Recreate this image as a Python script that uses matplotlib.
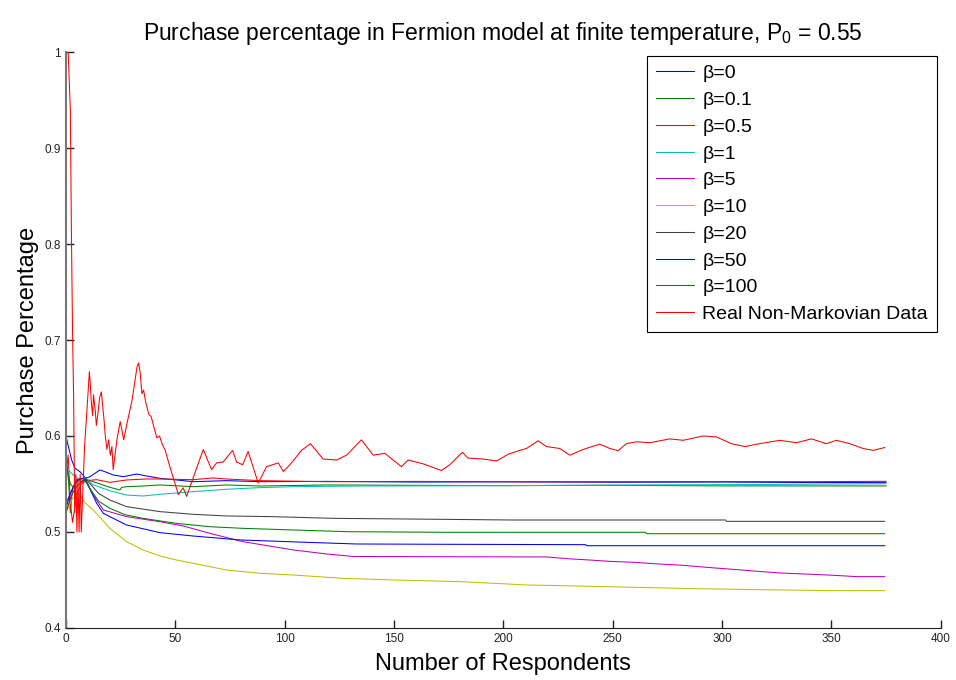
import matplotlib
matplotlib.use("Agg")
import matplotlib.pyplot as plt

plt.rcParams['font.family'] = ['Liberation Sans', 'DejaVu Sans']
plt.rcParams['mathtext.default'] = 'regular'

# simulated purchase fraction vs. respondents, one run per beta
beta0_x = [0, 1, 2.6, 4.1, 6.4, 9, 11, 15.5, 17.8, 21.6, 26.2, 32.3, 36.9, 43, 50.6, 58.2,
           73.4, 88.7, 120, 160, 200, 250, 300, 340, 375]
beta0_y = [0.600, 0.590, 0.575, 0.5665, 0.5628, 0.556, 0.5576, 0.5646, 0.5628, 0.5594,
           0.5576, 0.5604, 0.5583, 0.5559, 0.5542, 0.5524, 0.5535, 0.5524, 0.5527, 0.552,
           0.5522, 0.5518, 0.552, 0.5515, 0.5517]

beta01_x = [0, 1, 2, 3, 5, 7, 9, 12.5, 20.1, 24.7, 25.5, 27.7, 35.3, 43, 58.2, 73.4, 88.7,
            119.2, 160, 200, 250, 300, 375]
beta01_y = [0.578, 0.56, 0.52, 0.545, 0.555, 0.552, 0.555, 0.5524, 0.5465, 0.5438, 0.5465,
            0.5472, 0.5479, 0.549, 0.5472, 0.549, 0.5479, 0.549, 0.5486, 0.5483, 0.5486,
            0.548, 0.548]

beta05_x = [0, 1, 2, 3, 5, 7, 9.4, 14, 20.1, 27.7, 36.9, 43, 58.2, 67.3, 73.4, 88.7, 119.2,
            160, 200, 250, 300, 340, 375]
beta05_y = [0.56, 0.58, 0.53, 0.51, 0.54, 0.55, 0.5535, 0.5545, 0.5517, 0.5542, 0.5552,
            0.5552, 0.5545, 0.5563, 0.5552, 0.5535, 0.5524, 0.5527, 0.5524, 0.5524, 0.5526,
            0.5524, 0.5528]

beta1_x = [0, 1, 3, 6, 9, 12.5, 20.1, 27.7, 35.3, 43, 58.2, 73.4, 88.7, 103.9, 134.4, 202.9,
           260, 320, 375]
beta1_y = [0.55, 0.565, 0.56, 0.555, 0.556, 0.549, 0.543, 0.5385, 0.5375, 0.5393, 0.542,
           0.5445, 0.5462, 0.5472, 0.5479, 0.5483, 0.549, 0.5495, 0.5503]

beta5_x = [0, 3, 6, 9, 12, 17.1, 27.7, 43, 53.6, 65.8, 81, 103.9, 119.2, 131.4, 175.5,
           219.7, 231.2, 239.5, 248.7, 260.1, 268.5, 282.2, 292.9, 305.1, 314.3, 326.4,
           337.1, 350.9, 361.5, 374.4]
beta5_y = [0.53, 0.545, 0.555, 0.553, 0.54, 0.5229, 0.516, 0.5107, 0.5063, 0.4986, 0.4899,
           0.4813, 0.4771, 0.4745, 0.4742, 0.4740, 0.4719, 0.4708, 0.4694, 0.4684,
           0.467, 0.4653, 0.4632, 0.4611, 0.4594, 0.4573, 0.4563, 0.4549, 0.4535, 0.4535]

beta10_x = [0, 3, 6, 8.7, 12.5, 20.1, 27.7, 35.3, 43, 50.6, 58.2, 73.4, 88.7, 103.9, 126.7,
            149.6, 180, 196.1, 210.6, 232.7, 259.4, 286.9, 317.2, 350.9, 374.4]
beta10_y = [0.52, 0.535, 0.54, 0.5306, 0.5229, 0.5038, 0.4899, 0.4813, 0.475, 0.4708, 0.4674,
            0.4604, 0.457, 0.4552, 0.4517, 0.45, 0.4483, 0.4465, 0.4448, 0.4438, 0.4424,
            0.441, 0.4399, 0.4389, 0.4389]

beta20_x = [0, 2, 4, 6, 9, 10.2, 15, 20.1, 27.7, 43, 58.2, 73.4, 94, 122.9, 171.7, 202.9,
            301.7, 302, 374.4]
beta20_y = [0.52, 0.535, 0.545, 0.55, 0.556, 0.5524, 0.54, 0.5333, 0.5264, 0.5212, 0.5184,
            0.5167, 0.516, 0.5142, 0.5132, 0.5125, 0.5125, 0.5111, 0.5111]

beta50_x = [0, 2, 4, 6, 8, 10, 14, 17.1, 27.7, 43, 58.2, 79.5, 109.3, 132.9, 170.3, 237.7,
            238, 374.4]
beta50_y = [0.525, 0.54, 0.55, 0.555, 0.556, 0.55, 0.53, 0.5194, 0.5073, 0.4993, 0.4958,
            0.4917, 0.4893, 0.4875, 0.4872, 0.4868, 0.4857, 0.4857]

beta100_x = [0, 2, 4, 6, 9, 11, 15, 20.1, 27, 35.3, 50.5, 65.8, 81, 103.9, 129.1, 172.5,
             265, 265.5, 374.4]
beta100_y = [0.57, 0.55, 0.545, 0.55, 0.555, 0.545, 0.532, 0.5247, 0.518, 0.5142, 0.509,
             0.5055, 0.5038, 0.5021, 0.5003, 0.4997, 0.4997, 0.4982, 0.4982]

# survey data
real_x = [1, 2, 2.5, 3, 3.5, 4, 4.5, 5, 5.5, 6,
          6.5, 7, 8.5, 9.6, 10.7, 11.1, 11.6, 12.2, 12.6, 13.4,
          13.9, 14.6, 15.4, 16.2, 16.8, 17.4, 18.0, 18.7, 19.5, 20.3,
          21.0, 21.6, 23.3, 24.8, 25.6, 26.4, 27.9, 30.2, 32.5, 33.2,
          34.0, 34.7, 35.5, 36.3, 37.8, 39.0, 40.1, 41.6, 42.8, 43.9,
          45.4, 47.5, 49.8, 51.4, 53.6, 55.2, 56.7, 62.8, 65.1, 66.6,
          68.9, 71.9, 76.2, 78.0, 80.8, 83.3, 87.9, 91.7, 97.1, 99.4,
          102.4, 107.7, 111.8, 117.6, 123.7, 128.3, 135.1, 140.5, 145.8, 153.4,
          156.5, 163.3, 171.7, 175.5, 181.3, 183.8, 190.8, 196.9, 202.2, 207.5,
          210.6, 215.9, 219.7, 225.8, 230.4, 236.5, 244.1, 248.7, 252.5, 256.3,
          260.9, 267.0, 276.1, 282.2, 291.4, 297.5, 304.3, 310.4, 317.2, 326.4,
          334.0, 340.9, 347.7, 352.3, 358.4, 364.5, 369.1, 374.4]
real_y = [1.0, 0.94, 0.81, 0.71, 0.64, 0.52, 0.56, 0.50, 0.555, 0.50,
          0.56, 0.50, 0.589, 0.627, 0.667, 0.655, 0.635, 0.621, 0.643, 0.626,
          0.611, 0.623, 0.640, 0.646, 0.631, 0.617, 0.600, 0.586, 0.596, 0.580,
          0.589, 0.565, 0.596, 0.615, 0.606, 0.596, 0.613, 0.637, 0.672, 0.676,
          0.665, 0.644, 0.648, 0.637, 0.623, 0.620, 0.610, 0.598, 0.600, 0.592,
          0.585, 0.568, 0.551, 0.539, 0.546, 0.537, 0.547, 0.586, 0.573, 0.565,
          0.572, 0.573, 0.585, 0.573, 0.570, 0.584, 0.551, 0.568, 0.572, 0.563,
          0.570, 0.585, 0.592, 0.576, 0.575, 0.580, 0.596, 0.580, 0.582, 0.568,
          0.575, 0.571, 0.564, 0.570, 0.583, 0.577, 0.576, 0.574, 0.581, 0.585,
          0.587, 0.595, 0.589, 0.587, 0.580, 0.586, 0.5915, 0.587, 0.5847, 0.592,
          0.594, 0.593, 0.597, 0.5955, 0.600, 0.599, 0.592, 0.589, 0.592, 0.5955,
          0.593, 0.597, 0.592, 0.5955, 0.592, 0.587, 0.585, 0.588]

labels = ['β=0', 'β=0.1', 'β=0.5', 'β=1', 'β=5', 'β=10', 'β=20', 'β=50', 'β=100',
          'Real Non-Markovian Data']

# old MATLAB colour order, wrapping after seven
colors = [(0, 0, 1), (0, 0.5, 0), (1, 0, 0), (0, 0.75, 0.75), (0.75, 0, 0.75),
          (0.75, 0.75, 0), (0.25, 0.25, 0.25), (0, 0, 1), (0, 0.5, 0), (1, 0, 0)]

series = [(beta0_x, beta0_y), (beta01_x, beta01_y), (beta05_x, beta05_y),
          (beta1_x, beta1_y), (beta5_x, beta5_y), (beta10_x, beta10_y),
          (beta20_x, beta20_y), (beta50_x, beta50_y), (beta100_x, beta100_y),
          (real_x, real_y)]

fig = plt.figure(figsize=(9.56, 6.80), dpi=100)
ax = fig.add_axes([0.069, 0.0765, 0.915, 0.847])

for (xs, ys), c, lab in zip(series, colors, labels):
    ax.plot(xs, ys, color=c, lw=0.75, label=lab)

ax.set_xlim(0, 400)
ax.set_ylim(0.4, 1.0)
ax.set_xticks(range(0, 401, 50))
ax.set_yticks([0.4, 0.5, 0.6, 0.7, 0.8, 0.9, 1.0])
ax.set_yticklabels(['0.4', '0.5', '0.6', '0.7', '0.8', '0.9', '1'])
ax.tick_params(direction='in', length=6, width=1, labelsize=8.5, colors='#222222')

for side in ('top', 'right'):
    ax.spines[side].set_visible(False)
ax.spines['left'].set_color('#777777')
ax.spines['left'].set_linewidth(1.5)
ax.spines['bottom'].set_color('#222222')

ax.set_title('Purchase percentage in Fermion model at finite temperature, P$_0$ = 0.55',
             fontsize=16.5, pad=9)
ax.set_xlabel('Number of Respondents', fontsize=17, labelpad=6)
ax.set_ylabel('Purchase Percentage', fontsize=17, labelpad=4)

leg = ax.legend(loc='upper right', bbox_to_anchor=(1.0, 1.0), fontsize=14,
                fancybox=False, framealpha=1, edgecolor='black',
                handlelength=1.95, handletextpad=0.45, labelspacing=0.47,
                borderpad=0.45, borderaxespad=0.2)
leg.get_frame().set_linewidth(0.8)

fig.savefig('out.png', dpi=100)
